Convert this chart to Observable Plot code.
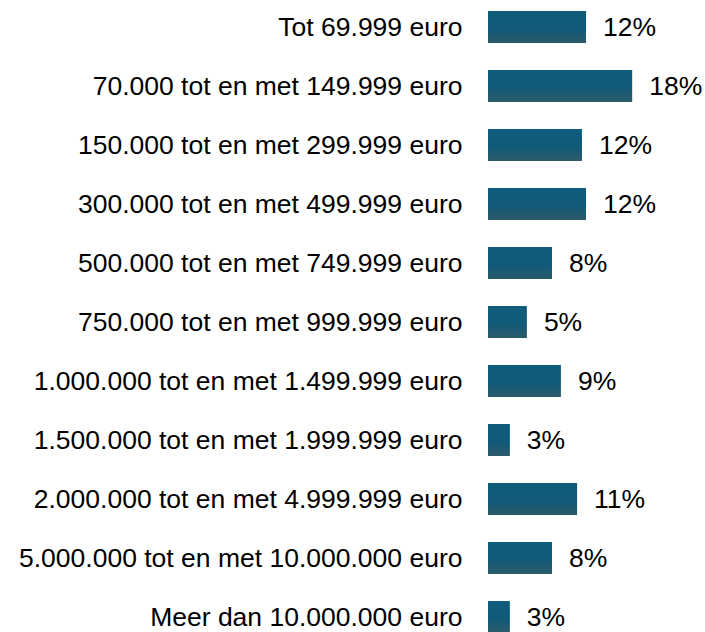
<!DOCTYPE html>
<html><head><meta charset="utf-8">
<script src="https://cdn.jsdelivr.net/npm/d3@7"></script>
<script src="https://cdn.jsdelivr.net/npm/@observablehq/plot@0.6"></script>
<style>body{margin:0;background:#fff}</style>
</head><body><div id="chart"></div>
<script>
const categories = [
  "Tot 69.999 euro",
  "70.000 tot en met 149.999 euro",
  "150.000 tot en met 299.999 euro",
  "300.000 tot en met 499.999 euro",
  "500.000 tot en met 749.999 euro",
  "750.000 tot en met 999.999 euro",
  "1.000.000 tot en met 1.499.999 euro",
  "1.500.000 tot en met 1.999.999 euro",
  "2.000.000 tot en met 4.999.999 euro",
  "5.000.000 tot en met 10.000.000 euro",
  "Meer dan 10.000.000 euro"
];
const values = [12.1, 17.8, 11.6, 12.1, 7.9, 4.8, 9.0, 2.7, 11.0, 7.9, 2.7];
const labels = ["12%", "18%", "12%", "12%", "8%", "5%", "9%", "3%", "11%", "8%", "3%"];

const data = categories.map((c, i) => ({category: c, value: values[i], label: labels[i]}));

const chart = Plot.plot({
  width: 705, height: 632,
  marginLeft: 488, marginRight: 55, marginTop: 0, marginBottom: 0,
  style: {fontFamily: "'Liberation Sans', Arial, sans-serif", fontSize: "26.5px", color: "#000", background: "#fff"},
  x: {domain: [0, 20], axis: null},
  y: {domain: categories, range: [8, 635], paddingInner: 0.462, paddingOuter: 0, axis: null},
  marks: [
    Plot.barX(data, {x: "value", y: "category", fill: "url(#barGrad)"}),
    Plot.text(data, {x: "value", y: "category", text: "label", textAnchor: "start", dx: 16.5, fontSize: 26.5, fill: "#000"}),
    Plot.axisY({tickSize: 0, tickPadding: 26, fontSize: 26.5, label: null, textOverflow: null, lineWidth: Infinity})
  ]
});

const svg = d3.select(chart);
const grad = svg.insert("defs", ":first-child").append("linearGradient")
  .attr("id", "barGrad").attr("x1", 0).attr("y1", 0).attr("x2", 0).attr("y2", 1);
grad.append("stop").attr("offset", "0").attr("stop-color", "#0f5c7b");
grad.append("stop").attr("offset", "0.55").attr("stop-color", "#105a78");
grad.append("stop").attr("offset", "1").attr("stop-color", "#2c5a6a");

document.getElementById("chart").appendChild(chart);
</script>
</body></html>
